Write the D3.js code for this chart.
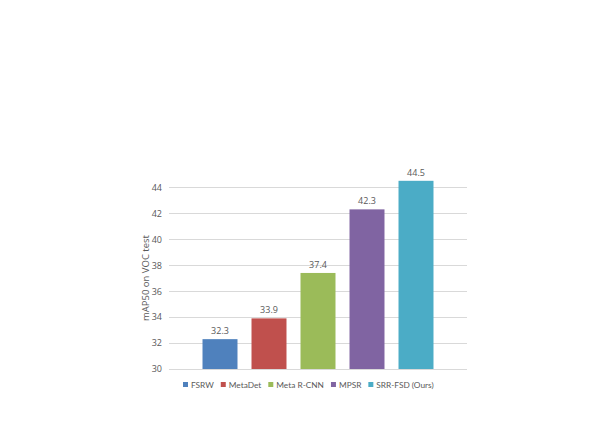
<!DOCTYPE html>
<html>
<head>
<meta charset="utf-8">
<script src="https://cdn.jsdelivr.net/npm/d3@7"></script>
<style>
  body { margin: 0; background: #fff; }
  text { font-family: "Open Sans", sans-serif; fill: #595959; }
</style>
</head>
<body>
<svg id="chart" width="605" height="430"></svg>
<script>
// data
let methods = ['FSRW', 'MetaDet', 'Meta R-CNN', 'MPSR', 'SRR-FSD (Ours)'];
let scores = [32.3, 33.9, 37.4, 42.3, 44.5];
let colours = ['#4F81BD', '#C0504D', '#9BBB59', '#8064A2', '#4BACC6'];
let yTicks = [30, 32, 34, 36, 38, 40, 42, 44];

let svg = d3.select('#chart');

let gridLeft = 169, gridRight = 467;

let x = d3.scaleBand()
    .domain(methods)
    .range([195.5, 440.5])
    .paddingInner(0.286)
    .paddingOuter(0.143);

let y = d3.scaleLinear()
    .domain([30, 44])
    .range([369, 187.3]);

// gridlines
svg.append('g')
    .selectAll('line')
    .data(yTicks)
    .enter()
    .append('line')
    .attr('x1', gridLeft)
    .attr('x2', gridRight)
    .attr('y1', d => Math.round(y(d)) + 0.5)
    .attr('y2', d => Math.round(y(d)) + 0.5)
    .attr('stroke', '#d9d9d9')
    .attr('stroke-width', 1);

// y axis labels
let yAxis = d3.axisLeft(y).tickValues(yTicks).tickSize(0).tickPadding(0);
let yg = svg.append('g')
    .attr('transform', 'translate(162,0)')
    .call(yAxis);
yg.select('.domain').remove();
yg.selectAll('text')
    .style('font-size', '9px')
    .style('font-family', '"Open Sans", sans-serif')
    .attr('fill', '#595959');

// axis title
svg.append('text')
    .attr('transform', 'translate(149,278) rotate(-90)')
    .attr('text-anchor', 'middle')
    .style('font-size', '9.5px')
    .text('mAP50 on VOC test');

// bars
svg.append('g')
    .selectAll('rect')
    .data(methods)
    .enter()
    .append('rect')
    .attr('x', d => x(d))
    .attr('width', x.bandwidth())
    .attr('y', (d, i) => y(scores[i]))
    .attr('height', (d, i) => y(30) - y(scores[i]))
    .attr('fill', (d, i) => colours[i]);

// value labels
svg.append('g')
    .selectAll('text')
    .data(methods)
    .enter()
    .append('text')
    .attr('x', d => x(d) + x.bandwidth() / 2)
    .attr('y', (d, i) => y(scores[i]) - 5)
    .attr('text-anchor', 'middle')
    .style('font-size', '9px')
    .text((d, i) => scores[i]);

// legend
let legend = svg.append('g');
let lx = 183;
methods.forEach(function(m, i) {
    legend.append('rect')
        .attr('x', lx)
        .attr('y', 382)
        .attr('width', 5)
        .attr('height', 5)
        .attr('fill', colours[i]);
    let t = legend.append('text')
        .attr('x', lx + 8)
        .attr('y', 388)
        .style('font-family', 'Lato, sans-serif')
        .style('font-size', '8.3px')
        .text(m);
    lx = lx + 8 + t.node().getComputedTextLength() + 7;
});
</script>
</body>
</html>
